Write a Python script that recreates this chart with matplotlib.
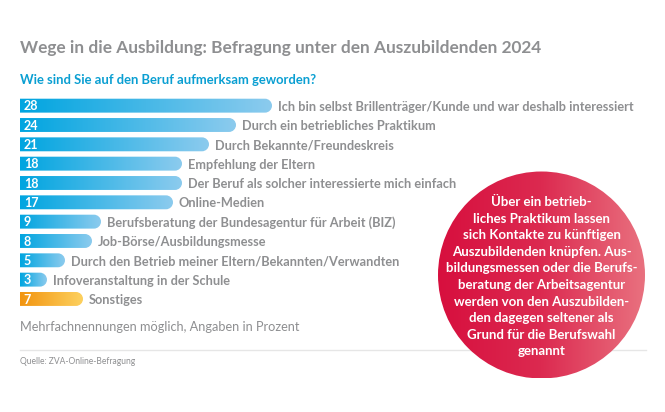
import numpy as np
import matplotlib
matplotlib.use("Agg")
import matplotlib.pyplot as plt
from matplotlib.colors import LinearSegmentedColormap
from matplotlib.patches import Circle, PathPatch
from matplotlib.path import Path

plt.rcParams['font.family'] = ['Lato', 'DejaVu Sans']

W, H = 665, 412

labels = [
    "Ich bin selbst Brillenträger/Kunde und war deshalb interessiert",
    "Durch ein betriebliches Praktikum",
    "Durch Bekannte/Freundeskreis",
    "Empfehlung der Eltern",
    "Der Beruf als solcher interessierte mich einfach",
    "Online-Medien",
    "Berufsberatung der Bundesagentur für Arbeit (BIZ)",
    "Job-Börse/Ausbildungsmesse",
    "Durch den Betrieb meiner Eltern/Bekannten/Verwandten",
    "Infoveranstaltung in der Schule",
    "Sonstiges",
]
values = [28, 24, 21, 18, 18, 17, 9, 8, 5, 3, 7]

blue = LinearSegmentedColormap.from_list("blue", ["#00a5e0", "#8ccbee"])
orange = LinearSegmentedColormap.from_list("orange", ["#f29410", "#fdd15f"])
red = LinearSegmentedColormap.from_list("red", ["#d70f3e", "#dc2a50", "#e9717f"])

grey = "#8e8f91"

fig = plt.figure(figsize=(W / 100, H / 100), dpi=100)

# page layer in pixel coordinates, for rule, circle and free text
page = fig.add_axes([0, 0, 1, 1], zorder=3)
page.set_xlim(0, W)
page.set_ylim(H, 0)
page.axis("off")
page.patch.set_alpha(0)

# bar axes: 9 px per percent, one row every 19.33 px
top = 96.0
row = 19.33
ax = fig.add_axes([20 / W, 1 - (top + row * 11) / H, 9 * 70 / W, row * 11 / H], zorder=2)
ax.set_xlim(0, 70)
ax.set_ylim(10.5, -0.5)
ax.axis("off")

bar_h = 0.72
rx = (bar_h / 2 * row) / 9  # corner radius in x units


def bar_path(v, y):
    t, b = y - bar_h / 2, y + bar_h / 2
    k = 0.55
    r = bar_h / 2
    verts = [(0, t), (v - rx, t),
             (v - rx + k * rx, t), (v, y - k * r), (v, y),
             (v, y + k * r), (v - rx + k * rx, b), (v - rx, b),
             (0, b), (0, t)]
    codes = [Path.MOVETO, Path.LINETO,
             Path.CURVE4, Path.CURVE4, Path.CURVE4,
             Path.CURVE4, Path.CURVE4, Path.CURVE4,
             Path.LINETO, Path.CLOSEPOLY]
    return Path(verts, codes)


ramp = np.linspace(0, 1, 256).reshape(1, -1)
for i, (v, lab) in enumerate(zip(values, labels)):
    cmap = orange if lab == "Sonstiges" else blue
    im = ax.imshow(ramp, cmap=cmap, aspect="auto", extent=[0, v, i + 0.5, i - 0.5], zorder=2)
    clip = PathPatch(bar_path(v, i), facecolor="none", edgecolor="none", transform=ax.transData)
    ax.add_patch(clip)
    im.set_clip_path(clip)
    ax.text(0.42, i + 0.04, str(v), color="white", fontsize=9.0, fontweight="bold",
            va="center", ha="left", zorder=3)
    ax.text(v + 0.62, i + 0.06, lab, color=grey, fontsize=9.22, fontweight="bold",
            va="center", ha="left", zorder=3)
ax.set_xlim(0, 70)
ax.set_ylim(10.5, -0.5)

page.text(20, 47.5, "Wege in die Ausbildung: Befragung unter den Auszubildenden 2024",
          color=grey, fontsize=12.43, fontweight="bold", va="center", ha="left")
page.text(20, 79.8, "Wie sind Sie auf den Beruf aufmerksam geworden?",
          color="#0a9fd2", fontsize=9.35, fontweight="bold", va="center", ha="left")
page.text(20, 327, "Mehrfachnennungen möglich, Angaben in Prozent",
          color=grey, fontsize=9.2, va="center", ha="left")
page.text(20, 361.5, "Quelle: ZVA-Online-Befragung",
          color=grey, fontsize=6.15, va="center", ha="left")
page.plot([20, 646], [350, 350], color="#e6e6e6", lw=1.0, zorder=1)

# red circle with horizontal gradient
cx, cy, r = 541.5, 275, 103.5
im = page.imshow(ramp, cmap=red, aspect="auto", extent=[cx - r, cx + r, cy + r, cy - r], zorder=2)
clip = Circle((cx, cy), r, transform=page.transData, facecolor="none", edgecolor="none")
page.add_patch(clip)
im.set_clip_path(clip)
page.set_xlim(0, W)
page.set_ylim(H, 0)

circle_lines = [
    "Über ein betrieb-",
    "liches Praktikum lassen",
    "sich Kontakte zu künftigen",
    "Auszubildenden knüpfen. Aus-",
    "bildungsmessen oder die Berufs-",
    "beratung der Arbeitsagentur",
    "werden von den Auszubilden-",
    "den dagegen seltener als",
    "Grund für die Berufswahl",
    "genannt",
]
for i, line in enumerate(circle_lines):
    page.text(541.5, 202 + i * 16.6, line, color="white", fontsize=9.5, fontweight="bold",
              va="center", ha="center", zorder=3)

fig.savefig("out.png", dpi=100)
